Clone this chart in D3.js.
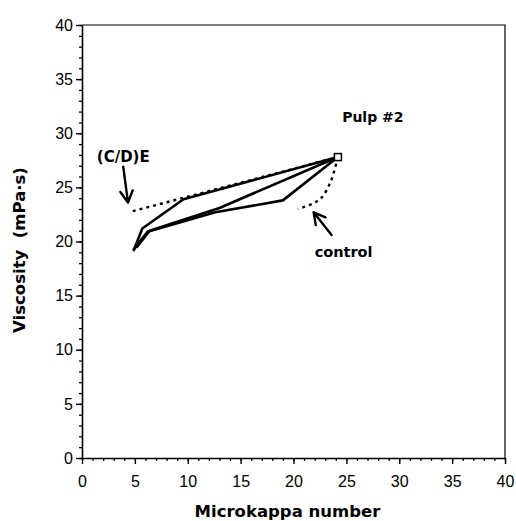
<!DOCTYPE html>
<html>
<head>
<meta charset="utf-8">
<script src="https://cdn.jsdelivr.net/npm/d3@7"></script>
<style>
  body { margin: 0; background: #fff; }
  svg { display: block; }
  .tick text { font-family: "Liberation Sans", Arial, sans-serif; font-size: 16px; fill: #000; }
  .ttl { font-family: "DejaVu Sans", sans-serif; font-weight: bold; fill: #000; }
</style>
</head>
<body>
<svg width="516" height="521"></svg>
<script>
const width = 516;
const height = 521;

// x = microkappa number, y = viscosity (mPa·s)
var xTicks = [0, 5, 10, 15, 20, 25, 30, 35, 40];
var yTicks = [0, 5, 10, 15, 20, 25, 30, 35, 40];

var controlPoint = [24.2, 27.8];

var seriesUpper  = [[24.2, 27.8], [9.6, 23.9], [5.7, 21.2], [4.9, 19.2]];
var seriesMiddle = [[24.2, 27.8], [13.0, 23.1], [6.4, 21.0], [5.2, 19.5]];
var seriesLower  = [[24.2, 27.8], [19.0, 23.8], [12.6, 22.7], [6.2, 20.9], [4.9, 19.3]];

var dottedCDE     = [[4.8, 22.8], [24.2, 27.8]];
var dottedControl = [[24.2, 27.8], [23.5, 25.5], [22.6, 24.0], [21.6, 23.4], [20.4, 23.0]];

var svg = d3.select("svg");

var x = d3.scaleLinear().domain([0, 40]).range([82, 505]);
var y = d3.scaleLinear().domain([0, 40]).range([458, 25]);

// frame (top + right)
svg.append("path")
    .attr("d", "M" + x(0) + "," + y(40) + "H" + x(40) + "V" + y(0))
    .attr("fill", "none").attr("stroke", "#000").attr("stroke-width", 1.2);

// minor ticks
svg.append("g")
    .attr("transform", "translate(0," + y(0) + ")")
    .call(d3.axisBottom(x).tickValues(d3.range(0, 41, 1)).tickSize(3).tickFormat("").tickSizeOuter(0))
    .call(g => g.select(".domain").remove())
    .selectAll("line").attr("stroke-width", 1.3);
svg.append("g")
    .attr("transform", "translate(" + x(0) + ",0)")
    .call(d3.axisLeft(y).tickValues(d3.range(0, 41, 1)).tickSize(3).tickFormat("").tickSizeOuter(0))
    .call(g => g.select(".domain").remove())
    .selectAll("line").attr("stroke-width", 1.3);

// major axes
var xAxis = svg.append("g")
    .attr("transform", "translate(0," + y(0) + ")")
    .call(d3.axisBottom(x).tickValues(xTicks).tickSize(6).tickSizeOuter(0).tickPadding(12));
var yAxis = svg.append("g")
    .attr("transform", "translate(" + x(0) + ",0)")
    .call(d3.axisLeft(y).tickValues(yTicks).tickSize(6).tickSizeOuter(0).tickPadding(3));
[xAxis, yAxis].forEach(function (g) {
    g.select(".domain").attr("stroke-width", 1.6);
    g.selectAll("line").attr("stroke-width", 1.4);
});

// axis titles
svg.append("text").attr("class", "ttl")
    .attr("x", (x(0) + x(40)) / 2 - 6).attr("y", 517)
    .attr("text-anchor", "middle").attr("font-size", "16.5px")
    .text("Microkappa number");
svg.append("text").attr("class", "ttl")
    .attr("transform", "translate(25," + 250 + ") rotate(-90)")
    .attr("text-anchor", "middle").attr("font-size", "16.5px")
    .style("white-space", "pre")
    .text("Viscosity  (mPa·s)");

var line = d3.line().x(d => x(d[0])).y(d => y(d[1]));
var curve = d3.line().x(d => x(d[0])).y(d => y(d[1])).curve(d3.curveCatmullRom);

[seriesUpper, seriesMiddle, seriesLower].forEach(function (s) {
    svg.append("path").attr("d", line(s))
        .attr("fill", "none").attr("stroke", "#000")
        .attr("stroke-width", 2.6).attr("stroke-linejoin", "round").attr("stroke-linecap", "round");
});

svg.append("path").attr("d", line(dottedCDE))
    .attr("fill", "none").attr("stroke", "#000")
    .attr("stroke-width", 2.4).attr("stroke-dasharray", "3,4");
svg.append("path").attr("d", curve(dottedControl))
    .attr("fill", "none").attr("stroke", "#000")
    .attr("stroke-width", 2.4).attr("stroke-dasharray", "3,4");

// control point
svg.append("rect")
    .attr("x", x(controlPoint[0]) - 3.5).attr("y", y(controlPoint[1]) - 3.5)
    .attr("width", 7).attr("height", 7)
    .attr("fill", "#fff").attr("stroke", "#000").attr("stroke-width", 1.5);

// annotations
function arrow(from, to) {
    var x1 = x(from[0]), y1 = y(from[1]), x2 = x(to[0]), y2 = y(to[1]);
    var a = Math.atan2(y2 - y1, x2 - x1), L = 13, w = 0.5;
    svg.append("path")
        .attr("d", "M" + x1 + "," + y1 + "L" + x2 + "," + y2 +
            "M" + (x2 - L * Math.cos(a - w)) + "," + (y2 - L * Math.sin(a - w)) +
            "L" + x2 + "," + y2 +
            "L" + (x2 - L * Math.cos(a + w)) + "," + (y2 - L * Math.sin(a + w)))
        .attr("fill", "none").attr("stroke", "#000").attr("stroke-width", 2.4)
        .attr("stroke-linecap", "round").attr("stroke-linejoin", "round");
}
arrow([3.9, 26.9], [4.35, 23.6]);
arrow([23.6, 20.6], [21.9, 22.7]);

svg.append("text").attr("class", "ttl").attr("font-size", "15px")
    .attr("x", x(1.4)).attr("y", y(27.3)).text("(C/D)E");
svg.append("text").attr("class", "ttl").attr("font-size", "14px")
    .attr("x", x(24.6)).attr("y", y(31.0)).text("Pulp #2");
svg.append("text").attr("class", "ttl").attr("font-size", "14.5px")
    .attr("x", x(22.0)).attr("y", y(18.55)).text("control");
</script>
</body>
</html>
